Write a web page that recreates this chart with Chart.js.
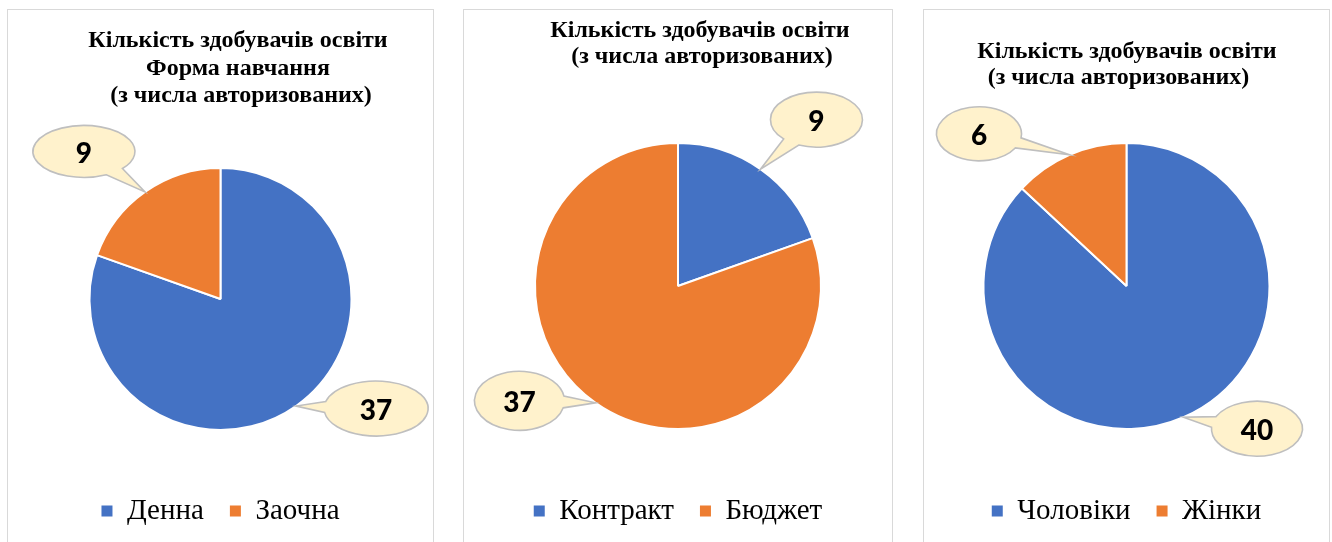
<!DOCTYPE html>
<html><head><meta charset="utf-8">
<script src="https://cdn.jsdelivr.net/npm/chart.js@4.4.1/dist/chart.umd.min.js"></script>
<style>
html,body{margin:0;padding:0;background:#fff;overflow:hidden;width:1332px;height:542px;}
.panel{position:absolute;top:9px;height:600px;border:1px solid #D9D9D9;box-sizing:border-box;background:#fff;}
.panel canvas{position:absolute;left:0;top:0;}
</style></head><body>
<div class="panel" style="left:7px;width:427px"><canvas id="c1" width="425" height="532"></canvas></div>
<div class="panel" style="left:463px;width:430px"><canvas id="c2" width="428" height="532"></canvas></div>
<div class="panel" style="left:923px;width:407px"><canvas id="c3" width="405" height="532"></canvas></div>
<script>
// ---- data ----
const formLabels = ['Денна', 'Заочна'];
const formValues = [37, 9];
const fundLabels = ['Контракт', 'Бюджет'];
const fundValues = [9, 37];
const genderLabels = ['Чоловіки', 'Жінки'];
const genderValues = [40, 6];
const titleForm = ['Кількість здобувачів освіти', 'Форма навчання', '(з числа авторизованих)'];
const titleFund = ['Кількість здобувачів освіти', '(з числа авторизованих)'];
const titleGender = ['Кількість здобувачів освіти', '(з числа авторизованих)'];
const sliceColors = ['#4472C4', '#ED7D31'];

// ---- plugins ----
const panelTitle = {
  id: 'panelTitle',
  afterDraw(chart, args, o) {
    const ctx = chart.ctx;
    ctx.save();
    ctx.font = 'bold 24px "Liberation Serif"';
    ctx.fillStyle = '#000';
    ctx.textAlign = 'center';
    ctx.textBaseline = 'alphabetic';
    const cx = chart.width / 2 + o.dx;
    o.lines.forEach((t, i) => {
      ctx.fillText(t, cx + (o.lineDx ? o.lineDx[i] : 0), o.y + i * o.lineHeight);
    });
    ctx.restore();
  }
};

const callouts = {
  id: 'callouts',
  afterDatasetsDraw(chart, args, o) {
    const ctx = chart.ctx;
    const meta = chart.getDatasetMeta(0);
    const values = chart.data.datasets[0].data;
    meta.data.forEach((arc, i) => {
      const p = arc.getProps(['x', 'y', 'startAngle', 'endAngle', 'outerRadius'], true);
      const mid = (p.startAngle + p.endAngle) / 2;
      const tx = p.x + Math.cos(mid) * p.outerRadius;
      const ty = p.y + Math.sin(mid) * p.outerRadius;
      const cx = tx + o.offsets[i][0];
      const cy = ty + o.offsets[i][1];
      const rx = o.radii[i][0], ry = o.radii[i][1];
      const th = Math.atan2((ty - cy) / ry, (tx - cx) / rx);
      const d = 0.2;
      ctx.save();
      ctx.beginPath();
      ctx.ellipse(cx, cy, rx, ry, 0, th + d, th - d + Math.PI * 2);
      ctx.lineTo(tx, ty);
      ctx.closePath();
      ctx.fillStyle = '#FFF2CC';
      ctx.fill();
      ctx.lineWidth = 1.6;
      ctx.strokeStyle = '#BFBFBF';
      ctx.stroke();
      ctx.fillStyle = '#000';
      ctx.font = '900 28px Lato';
      ctx.textAlign = 'center';
      ctx.textBaseline = 'middle';
      ctx.fillText(String(values[i]), cx, cy + 2);
      ctx.restore();
    });
  }
};

function legendItems(chart) {
  return Chart.overrides.pie.plugins.legend.labels.generateLabels(chart)
    .map(it => Object.assign(it, { lineWidth: 0, strokeStyle: 'rgba(0,0,0,0)' }));
}

function makePie(id, labels, values, radius, padTop, title, bubbles) {
  return new Chart(document.getElementById(id), {
    type: 'pie',
    data: {
      labels: labels,
      datasets: [{
        data: values,
        backgroundColor: sliceColors,
        borderColor: '#FFFFFF',
        borderWidth: 2,
        radius: radius
      }]
    },
    options: {
      responsive: false,
      animation: false,
      devicePixelRatio: 1,
      layout: { padding: { top: padTop, bottom: 6.5, left: 0, right: 0 } },
      plugins: {
        tooltip: { enabled: false },
        title: { display: false },
        legend: {
          display: true,
          position: 'bottom',
          labels: {
            color: '#000',
            font: { family: '"Liberation Serif"', size: 29 },
            boxWidth: 11,
            boxHeight: 11,
            padding: 26,
            generateLabels: legendItems
          }
        },
        panelTitle: title,
        callouts: bubbles
      }
    },
    plugins: [panelTitle, callouts]
  });
}

makePie('c1', formLabels, formValues, 131, 117.5,
  { lines: titleForm, dx: 17.5, y: 37, lineHeight: 27.5, lineDx: [0, 0, 3] },
  { offsets: [[80, 2.5], [-61, -40.5]], radii: [[52, 27.5], [51, 26]] });

makePie('c2', fundLabels, fundValues, 143, 91.5,
  { lines: titleFund, dx: 22, y: 27, lineHeight: 26, lineDx: [0, 2] },
  { offsets: [[56, -49.5], [-76, -2]], radii: [[46, 27.5], [45, 29.5]] });

makePie('c3', genderLabels, genderValues, 143, 91.5,
  { lines: titleGender, dx: 0.5, y: 48, lineHeight: 26, lineDx: [0, -8.5] },
  { offsets: [[73.5, 11.5], [-90.5, -21]], radii: [[45.5, 27.5], [42.5, 27]] });
</script>
</body></html>
